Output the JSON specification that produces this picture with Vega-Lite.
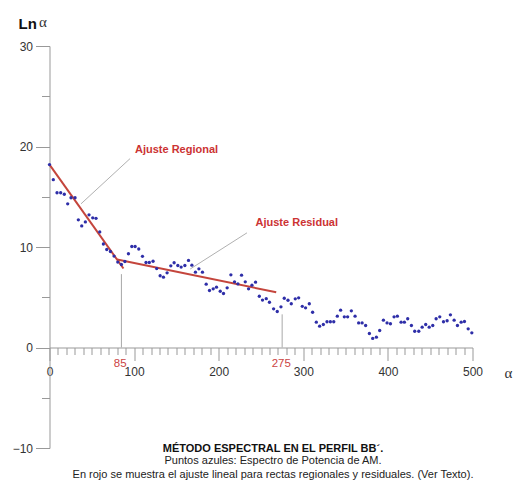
{
  "$schema": "https://vega.github.io/schema/vega-lite/v6.json",
  "width": 423,
  "height": 402,
  "autosize": "none",
  "padding": {"left": 49.5, "top": 46, "right": 41.5, "bottom": 33},
  "background": "white",
  "config": {"view": {"stroke": null}, "font": "Liberation Sans"},
  "title": {
    "text": "MÉTODO ESPECTRAL EN EL PERFIL BB´.",
    "subtitle": ["Puntos azules: Espectro de Potencia de AM.", "En rojo se muestra el ajuste lineal para rectas regionales y residuales. (Ver Texto)."],
    "orient": "bottom",
    "anchor": "middle",
    "frame": "group",
    "offset": -11,
    "dx": 12,
    "font": "Liberation Sans",
    "fontSize": 11,
    "fontWeight": "bold",
    "color": "#111111",
    "subtitleFont": "Liberation Sans",
    "subtitleFontSize": 11,
    "subtitleColor": "#222222",
    "subtitlePadding": 1,
    "subtitleLineHeight": 13.5
  },
  "encoding": {
    "x": {
      "field": "x", "type": "quantitative",
      "scale": {"domain": [0, 500], "nice": false, "zero": false},
      "axis": {
        "values": [0,10,20,30,40,50,60,70,80,90,100,110,120,130,140,150,160,170,180,190,200,210,220,230,240,250,260,270,280,290,300,310,320,330,340,350,360,370,380,390,400,410,420,430,440,450,460,470,480,490,500],
        "labelExpr": "datum.value % 100 === 0 ? datum.label : ''",
        "tickSize": {"condition": {"test": "datum.value % 100 === 0", "value": 13}, "value": 7},
        "offset": -100.5,
        "grid": false,
        "labelFlush": false,
        "labelOverlap": false,
        "labelPadding": 6,
        "labelFont": "Liberation Sans",
        "labelFontSize": 12,
        "labelColor": "#333333",
        "tickColor": "#999999",
        "domainColor": "#999999",
        "title": "α",
        "titleFont": "Liberation Serif",
        "titleFontSize": 15,
        "titleFontWeight": "normal",
        "titleColor": "#333333",
        "titleX": 458.5,
        "titleY": 25,
        "titleAlign": "center",
        "titleBaseline": "middle"
      }
    },
    "y": {
      "field": "y", "type": "quantitative",
      "scale": {"domain": [-10, 30], "nice": false, "zero": false},
      "axis": {
        "values": [-10,-5,0,5,10,15,20,25,30],
        "labelExpr": "datum.value % 10 === 0 ? datum.label : ''",
        "tickSize": {"condition": {"test": "datum.value % 10 === 0", "value": 14}, "value": 8},
        "grid": false,
        "labelOverlap": false,
        "labelPadding": 3,
        "labelFont": "Liberation Sans",
        "labelFontSize": 12,
        "labelColor": "#333333",
        "tickColor": "#999999",
        "domainColor": "#999999",
        "title": "Ln",
        "titleFont": "Liberation Sans",
        "titleFontSize": 15,
        "titleFontWeight": "bold",
        "titleColor": "#111111",
        "titleAngle": 0,
        "titleAlign": "left",
        "titleBaseline": "middle",
        "titleX": -31.5,
        "titleY": -23
      }
    }
  },
  "layer": [
    {
      "data": {"values": [{"x": 85, "y": 0, "y2": 7.3}, {"x": 275, "y": 0, "y2": 3.3}]},
      "mark": {"type": "rule", "color": "#a8a8a8", "strokeWidth": 1},
      "encoding": {"y2": {"field": "y2"}}
    },
    {
      "data": {"values": [{"x": 37.3, "y": 14.3, "x2": 95.3, "y2": 18.8}, {"x": 166.3, "y": 7.81, "x2": 233.4, "y2": 11.41}]},
      "mark": {"type": "rule", "color": "#b0b0b0", "strokeWidth": 1},
      "encoding": {"x2": {"field": "x2"}, "y2": {"field": "y2"}}
    },
    {
      "data": {"values": [{"fit": "Regional", "x": 0, "y": 18.2, "x2": 87.4, "y2": 7.86}, {"fit": "Residual", "x": 80, "y": 8.75, "x2": 268, "y2": 5.5}]},
      "mark": {"type": "rule", "color": "#c4453c", "strokeWidth": 2},
      "encoding": {"x2": {"field": "x2"}, "y2": {"field": "y2"}}
    },
    {
      "data": {"values": [
        {"x": 0, "y": 18.2}, {"x": 4.5, "y": 16.7}, {"x": 8.9, "y": 15.4}, {"x": 13.2, "y": 15.4}, {"x": 17.5, "y": 15.25},
        {"x": 21.5, "y": 14.3}, {"x": 25.4, "y": 14.9}, {"x": 30.2, "y": 14.9}, {"x": 34.1, "y": 12.7}, {"x": 38.1, "y": 12.1},
        {"x": 42.4, "y": 12.5}, {"x": 46.7, "y": 13.2}, {"x": 51.1, "y": 12.9}, {"x": 55, "y": 12.85}, {"x": 59.4, "y": 11.5},
        {"x": 63.7, "y": 10.3}, {"x": 67.7, "y": 9.75}, {"x": 72, "y": 9.55}, {"x": 76.3, "y": 9.1}, {"x": 80.7, "y": 8.5},
        {"x": 85, "y": 8.26}, {"x": 89.1, "y": 8.56}, {"x": 93.3, "y": 9.33}, {"x": 97.3, "y": 10.05}, {"x": 101.2, "y": 10.05},
        {"x": 105.5, "y": 9.8}, {"x": 109.9, "y": 9.07}, {"x": 114.1, "y": 8.46}, {"x": 118, "y": 8.46}, {"x": 122.4, "y": 8.58},
        {"x": 126.7, "y": 7.85}, {"x": 130.8, "y": 7.14}, {"x": 134.7, "y": 7.0}, {"x": 139, "y": 7.43}, {"x": 143.4, "y": 8.13},
        {"x": 147.3, "y": 8.43}, {"x": 151.7, "y": 8.16}, {"x": 155.6, "y": 8.0}, {"x": 160, "y": 8.16}, {"x": 164.3, "y": 8.66},
        {"x": 168.3, "y": 8.19}, {"x": 172.5, "y": 7.5}, {"x": 176.6, "y": 7.83}, {"x": 180.8, "y": 7.5}, {"x": 185.2, "y": 6.3},
        {"x": 189.1, "y": 5.67}, {"x": 193.5, "y": 5.84}, {"x": 197.4, "y": 6.0}, {"x": 201.8, "y": 5.6}, {"x": 205.7, "y": 5.37},
        {"x": 210, "y": 5.94}, {"x": 214.4, "y": 7.23}, {"x": 218.7, "y": 6.53}, {"x": 222.7, "y": 6.33}, {"x": 227, "y": 7.2},
        {"x": 231.4, "y": 6.53}, {"x": 235.3, "y": 5.84}, {"x": 239.3, "y": 6.2}, {"x": 243.6, "y": 6.5}, {"x": 248, "y": 5.1},
        {"x": 251.8, "y": 4.72}, {"x": 256.2, "y": 4.86}, {"x": 260, "y": 4.5}, {"x": 264.9, "y": 3.85}, {"x": 269.2, "y": 3.58},
        {"x": 273.6, "y": 4.05}, {"x": 277.5, "y": 4.9}, {"x": 281.9, "y": 4.7}, {"x": 285.8, "y": 4.35}, {"x": 290.5, "y": 4.84},
        {"x": 294.5, "y": 4.94}, {"x": 298.8, "y": 4.1}, {"x": 302.7, "y": 3.95}, {"x": 307.1, "y": 4.35}, {"x": 311, "y": 3.51},
        {"x": 315.4, "y": 2.52}, {"x": 319.3, "y": 2.12}, {"x": 323.7, "y": 2.29}, {"x": 328, "y": 2.56}, {"x": 332, "y": 2.56},
        {"x": 336, "y": 2.56}, {"x": 340.2, "y": 3.12}, {"x": 344.1, "y": 3.71}, {"x": 348.5, "y": 3.05}, {"x": 352.4, "y": 3.05},
        {"x": 356.8, "y": 3.65}, {"x": 361.2, "y": 3.12}, {"x": 365.4, "y": 2.45}, {"x": 369.5, "y": 2.45}, {"x": 373.7, "y": 2.19},
        {"x": 378.1, "y": 1.39}, {"x": 382, "y": 0.9}, {"x": 386.4, "y": 1.03}, {"x": 390.3, "y": 1.69}, {"x": 394.7, "y": 2.72},
        {"x": 399, "y": 2.45}, {"x": 403, "y": 2.36}, {"x": 407.3, "y": 3.05}, {"x": 411.2, "y": 3.12}, {"x": 415.6, "y": 2.52},
        {"x": 419.5, "y": 2.52}, {"x": 423.4, "y": 2.86}, {"x": 427.8, "y": 2.19}, {"x": 431.7, "y": 1.62}, {"x": 436.5, "y": 1.62},
        {"x": 440.5, "y": 2.02}, {"x": 444.7, "y": 2.29}, {"x": 448.8, "y": 2.02}, {"x": 453, "y": 2.19}, {"x": 457, "y": 2.86},
        {"x": 461.3, "y": 3.05}, {"x": 465.7, "y": 2.56}, {"x": 470, "y": 2.66}, {"x": 473.9, "y": 3.25}, {"x": 478.3, "y": 2.72},
        {"x": 482.2, "y": 2.19}, {"x": 486.6, "y": 2.52}, {"x": 490.5, "y": 2.59}, {"x": 494.9, "y": 1.86}, {"x": 499.2, "y": 1.46}
      ]},
      "mark": {"type": "circle", "size": 11, "color": "#2e2ea8", "opacity": 1}
    },
    {
      "data": {"values": [{"x": 150.2, "y": 19.7, "label": "Ajuste Regional"}, {"x": 292.3, "y": 12.34, "label": "Ajuste Residual"}]},
      "mark": {"type": "text", "font": "Liberation Sans", "fontSize": 11, "fontWeight": "bold", "color": "#cc3333", "align": "center", "baseline": "middle"},
      "encoding": {"text": {"field": "label"}}
    },
    {
      "data": {"values": [{"x": 83.5, "y": -1.6, "label": "85"}, {"x": 274, "y": -1.6, "label": "275"}]},
      "mark": {"type": "text", "font": "Liberation Sans", "fontSize": 11.5, "color": "#cc4444", "align": "center", "baseline": "middle"},
      "encoding": {"text": {"field": "label"}}
    },
    {
      "data": {"values": [{"x": -7.7, "y": 32.4, "label": "α"}]},
      "mark": {"type": "text", "font": "Liberation Serif", "fontSize": 15, "color": "#333333", "align": "center", "baseline": "middle"},
      "encoding": {"text": {"field": "label"}}
    }
  ]
}
